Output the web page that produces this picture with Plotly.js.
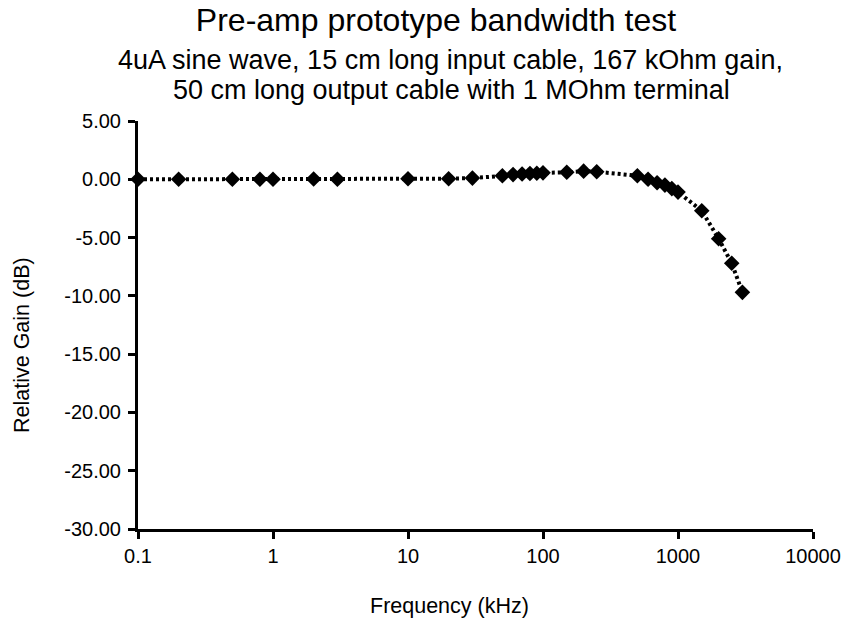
<!DOCTYPE html>
<html>
<head>
<meta charset="utf-8">
<script src="https://cdn.plot.ly/plotly-3.0.1.min.js"></script>
<style>html,body{margin:0;padding:0;background:#fff;}#chart{width:846px;height:620px;}</style>
</head>
<body>
<div id="chart"></div>
<script>
// Data
var frequencyKHz = [0.1, 0.2, 0.5, 0.8, 1, 2, 3, 10, 20, 30, 50, 60, 70, 80, 90, 100, 150, 200, 250, 500, 600, 700, 800, 900, 1000, 1500, 2000, 2500, 3000];
var relativeGainDB = [0, 0, 0, 0, 0, 0.02, 0, 0.05, 0.05, 0.1, 0.3, 0.4, 0.45, 0.5, 0.52, 0.55, 0.6, 0.7, 0.65, 0.3, 0.0, -0.3, -0.5, -0.8, -1.1, -2.7, -5.1, -7.2, -9.7];
var xTickValues = [0.1, 1, 10, 100, 1000, 10000];
var xTickLabels = ["0.1", "1", "10", "100", "1000", "10000"];
var yTickValues = [5, 0, -5, -10, -15, -20, -25, -30];
var yTickLabels = ["5.00", "0.00", "-5.00", "-10.00", "-15.00", "-20.00", "-25.00", "-30.00"];
var chartTitle = "Pre-amp prototype bandwidth test";
var subtitleLines = ["4uA sine wave, 15 cm long input cable, 167 kOhm gain,", "50 cm long output cable with 1 MOhm terminal"];
var xTitle = "Frequency (kHz)";
var yTitle = "Relative Gain (dB)";

var font = "Liberation Sans, Arial, Helvetica, sans-serif";

var trace = {
  x: frequencyKHz,
  y: relativeGainDB,
  type: "scatter",
  mode: "lines+markers",
  line: {color: "#000", width: 4, dash: "3px,3px"},
  marker: {symbol: "diamond", size: 12, color: "#000"},
  cliponaxis: false,
  showlegend: false
};

var layout = {
  width: 846,
  height: 620,
  paper_bgcolor: "#fff",
  plot_bgcolor: "#fff",
  margin: {l: 138, r: 33, t: 121, b: 91},
  font: {family: font, color: "#000"},
  title: {
    text: chartTitle,
    font: {family: font, size: 32, color: "#000"},
    x: 436 / 846, xanchor: "center", xref: "container",
    y: 1 - 20 / 620, yanchor: "middle", yref: "container"
  },
  xaxis: {
    type: "log",
    range: [-1, 4],
    tickvals: xTickValues,
    ticktext: xTickLabels,
    showgrid: false,
    zeroline: false,
    showline: true,
    linecolor: "#000",
    linewidth: 3,
    ticks: "outside",
    ticklen: 7,
    tickwidth: 3,
    tickcolor: "#000",
    tickfont: {family: font, size: 20, color: "#000"},
    fixedrange: true
  },
  yaxis: {
    range: [-30, 5],
    tickvals: yTickValues,
    ticktext: yTickLabels,
    showgrid: false,
    zeroline: false,
    showline: true,
    linecolor: "#000",
    linewidth: 3,
    ticks: "outside",
    ticklen: 7,
    tickwidth: 3,
    tickcolor: "#000",
    ticklabelstandoff: 3,
    tickfont: {family: font, size: 20, color: "#000"},
    fixedrange: true
  },
  annotations: [
    {text: subtitleLines[0], xref: "paper", yref: "paper", x: (450 - 138) / 675, y: (529 - 60) / 408,
     xanchor: "center", yanchor: "middle", showarrow: false, font: {family: font, size: 27, color: "#000"}},
    {text: subtitleLines[1], xref: "paper", yref: "paper", x: (451 - 138) / 675, y: (529 - 90) / 408,
     xanchor: "center", yanchor: "middle", showarrow: false, font: {family: font, size: 27, color: "#000"}},
    {text: xTitle, xref: "paper", yref: "paper", x: (449 - 138) / 675, y: (529 - 606) / 408,
     xanchor: "center", yanchor: "middle", showarrow: false, font: {family: font, size: 21.5, color: "#000"}},
    {text: yTitle, xref: "paper", yref: "paper", x: (22 - 138) / 675, y: (529 - 345) / 408,
     xanchor: "center", yanchor: "middle", textangle: -90, showarrow: false, font: {family: font, size: 21.5, color: "#000"}}
  ]
};

Plotly.newPlot("chart", [trace], layout, {displayModeBar: false, staticPlot: true});
</script>
</body>
</html>
